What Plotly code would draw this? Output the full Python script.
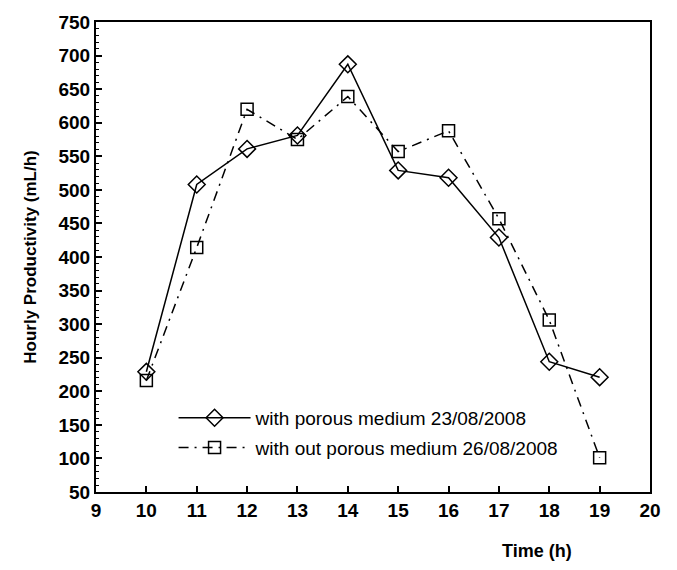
import plotly.graph_objects as go

hours = [10, 11, 12, 13, 14, 15, 16, 17, 18, 19]
with_porous = [229, 508, 561, 581, 687, 529, 518, 429, 244, 221]
without_porous = [216, 414, 620, 575, 639, 557, 588, 457, 306, 101]
name_with = "with porous medium 23/08/2008"
name_without = "with out porous medium 26/08/2008"
x_ticks = list(range(9, 21))
y_ticks = list(range(50, 751, 50))

fig = go.Figure()
fig.add_trace(go.Scatter(
    x=hours, y=with_porous, name=name_with, mode="lines+markers", legendgroup="a",
    line=dict(color="black", width=1.5),
    marker=dict(symbol="diamond-open", size=13, color="black", line=dict(width=1.5)),
))
fig.add_trace(go.Scatter(
    x=hours, y=without_porous, name=name_without, mode="lines+markers", legendgroup="b",
    line=dict(color="black", width=1.5, dash="10px,6px,2px,6px"),
    marker=dict(symbol="square-open", size=12, color="black", line=dict(width=1.5)),
))

axis_font = dict(family="Arial, Liberation Sans, sans-serif", size=19, color="black")
fig.update_layout(
    width=677, height=570,
    margin=dict(l=96, r=27, t=15, b=78),
    paper_bgcolor="white", plot_bgcolor="white",
    font=dict(family="Arial, Liberation Sans, sans-serif", color="black"),
    showlegend=True,
    legend=dict(
        x=0.14, y=0.198, xanchor="left", yanchor="top",
        bgcolor="rgba(0,0,0,0)", borderwidth=0,
        font=dict(family="Arial, Liberation Sans, sans-serif", size=19, color="black"),
        itemwidth=72, tracegroupgap=2,
    ),
    xaxis=dict(
        range=[9, 20], tickmode="array", tickvals=x_ticks,
        ticktext=[f"<b>{v}</b>" for v in x_ticks],
        ticks="inside", ticklen=6, tickwidth=1.5, tickcolor="black",
        showline=True, linecolor="black", linewidth=2, mirror=True,
        showgrid=False, zeroline=False, tickfont=axis_font,
    ),
    yaxis=dict(
        range=[50, 750], tickmode="array", tickvals=y_ticks,
        ticktext=[f"<b>{v}</b>" for v in y_ticks],
        ticks="inside", ticklen=6, tickwidth=1.5, tickcolor="black",
        minor=dict(ticks="inside", ticklen=3, dtick=10, tickcolor="black", tickwidth=1),
        showline=True, linecolor="black", linewidth=2, mirror=True,
        showgrid=False, zeroline=False, tickfont=axis_font,
        title=dict(text="<b>Hourly Productivity (mL/h)</b>",
                   font=dict(family="Arial, Liberation Sans, sans-serif", size=17, color="black"),
                   standoff=18),
    ),
    annotations=[dict(
        text="<b>Time (h)</b>", xref="paper", yref="paper",
        x=0.796, y=-0.126, xanchor="center", yanchor="middle", showarrow=False,
        font=dict(family="Arial, Liberation Sans, sans-serif", size=18, color="black"),
    )],
)

fig.write_html("out.html")
